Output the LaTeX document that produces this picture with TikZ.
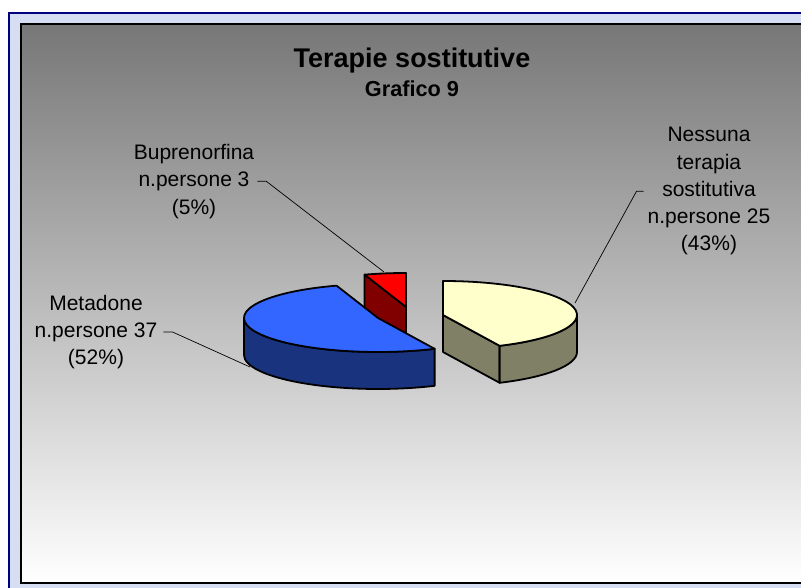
\documentclass[tikz,border=0pt]{standalone}
\usepackage{fontspec}
\setmainfont{Liberation Sans}
\usepackage{xcolor}
\usetikzlibrary{backgrounds,calc,positioning}

\definecolor{frameBlue}{HTML}{000080}
\definecolor{frameLav}{HTML}{D6DEF4}
\definecolor{areaTop}{HTML}{777777}
\definecolor{yelTop}{HTML}{FFFFCC}
\definecolor{yelSide}{HTML}{808066}
\definecolor{bluTop}{HTML}{3366FF}
\definecolor{bluSide}{HTML}{19337F}
\definecolor{redTop}{HTML}{FF0000}
\definecolor{redSide}{HTML}{800000}

\begin{document}
\begin{tikzpicture}[x=1pt,y=1pt]
\tikzstyle{every node}=[inner sep=0pt, align=center];
\tikzstyle{slice}=[draw=black, line width=1.8pt, line join=round];
\tikzstyle{rim}=[x radius=134, y radius=34];
\tikzstyle{leader}=[draw=black, line width=0.7pt];
\tikzstyle{lbl}=[font=\fontsize{21}{27.3}\selectfont];

\useasboundingbox (0,0) rectangle (801,588);
\fill[white] (0,0) rectangle (801,588);
\draw[draw=frameBlue, line width=2pt, fill=frameLav] (9,-10) rectangle (830,575); %frame
\draw[line width=1.2pt, top color=areaTop, bottom color=white] (21,5) rectangle (830,564); %plot area

\coordinate (cr) at (406,281);
\coordinate (cb) at (378,270);
\coordinate (cy) at (443,273);

% buprenorfina
\filldraw[slice, fill=redSide] (cr) -- ++(108:134 and 34) -- ++(0,-37) -- ($(cr)+(0,-37)$) -- cycle;
\filldraw[slice, fill=redTop] (cr) -- ++(90:134 and 34) arc[rim, start angle=90, end angle=108] -- cycle;

% metadone
\filldraw[slice, fill=bluSide] ($(cb)+(180:134 and 34)$) arc[rim, start angle=180, end angle=295] -- ++(0,-37) arc[rim, start angle=295, end angle=180] -- cycle;
\filldraw[slice, fill=bluTop] (cb) -- ++(108:134 and 34) arc[rim, start angle=108, end angle=295] -- cycle;

% nessuna terapia
\filldraw[slice, fill=yelSide] (cy) -- ++(-65:134 and 34) -- ++(0,-37) -- ($(cy)+(0,-37)$) -- cycle;
\filldraw[slice, fill=yelSide] ($(cy)+(-65:134 and 34)$) arc[rim, start angle=-65, end angle=0] -- ++(0,-37) arc[rim, start angle=0, end angle=-65] -- cycle;
\filldraw[slice, fill=yelTop] (cy) -- ++(-65:134 and 34) arc[rim, start angle=-65, end angle=90] -- cycle;

\node[font=\fontsize{27}{30}\selectfont\bfseries] (title) at (412,527.7) {Terapie sostitutive};
\node[font=\fontsize{21.7}{26}\selectfont\bfseries] (subtitle) at (412,499) {Grafico 9};

\node[lbl] (lmet) at (96,256) {Metadone\\n.persone 37\\(52\%)};
\node[lbl] (lbup) at (194,406.7) {Buprenorfina\\n.persone 3\\(5\%)};
\node[lbl] (lnes) at (709,396.7) {Nessuna\\terapia\\sostitutiva\\n.persone 25\\(43\%)};

\coordinate (pmet) at (250,221);
\coordinate (pbup) at (384,316);
\coordinate (pnes) at (575,285);
\draw[leader] ([xshift=6pt]lmet.east) -- ++(9,0) -- (pmet);
\draw[leader] ([xshift=3pt]lbup.east) -- ++(9,0) -- (pbup);
\draw[leader] ([xshift=-4pt]lnes.west) -- ++(-7,0) -- (pnes);
\end{tikzpicture}
\end{document}
